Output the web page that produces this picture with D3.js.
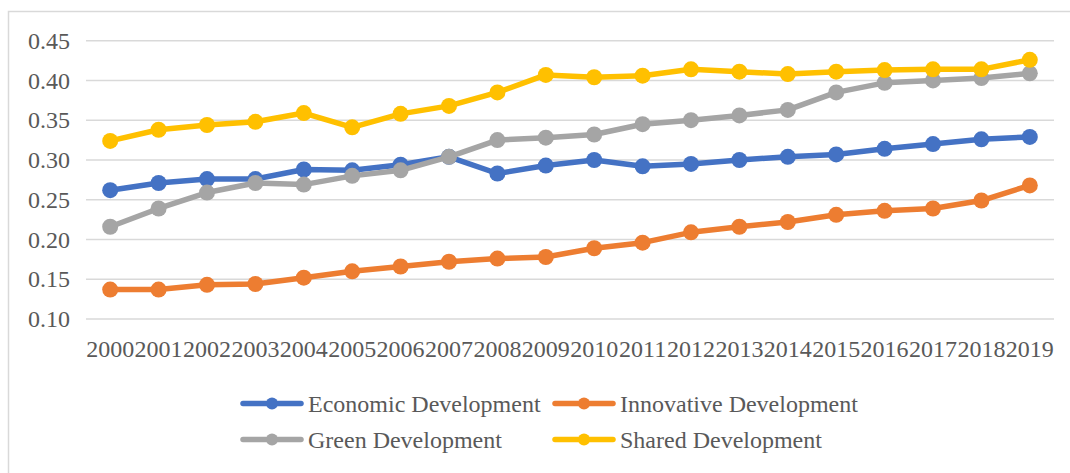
<!DOCTYPE html>
<html>
<head>
<meta charset="utf-8">
<script src="https://cdn.jsdelivr.net/npm/d3@7"></script>
<style>
  body { margin: 0; background: #fff; }
  svg { display: block; }
  text { font-family: "Liberation Serif", "Times New Roman", serif; fill: #595959; }
</style>
</head>
<body>
<div id="chart"></div>
<script>
// years on the x axis
const years = ["2000","2001","2002","2003","2004","2005","2006","2007","2008","2009",
               "2010","2011","2012","2013","2014","2015","2016","2017","2018","2019"];

// values
const economic   = [0.262,0.271,0.276,0.276,0.288,0.287,0.294,0.304,0.283,0.293,
                    0.300,0.292,0.295,0.300,0.304,0.307,0.314,0.320,0.326,0.329];
const innovative = [0.137,0.137,0.143,0.144,0.152,0.160,0.166,0.172,0.176,0.178,
                    0.189,0.196,0.209,0.216,0.222,0.231,0.236,0.239,0.249,0.268];
const green      = [0.216,0.239,0.259,0.271,0.269,0.280,0.287,0.304,0.325,0.328,
                    0.332,0.345,0.350,0.356,0.363,0.385,0.397,0.400,0.403,0.409];
const shared     = [0.324,0.338,0.344,0.348,0.359,0.341,0.358,0.368,0.385,0.407,
                    0.404,0.406,0.414,0.411,0.408,0.411,0.413,0.414,0.414,0.426];

const yTicks = [0.10, 0.15, 0.20, 0.25, 0.30, 0.35, 0.40, 0.45];

const series = [
  { name: "Economic Development",   values: economic,   color: "#4472C4" },
  { name: "Innovative Development", values: innovative, color: "#ED7D31" },
  { name: "Green Development",      values: green,      color: "#A5A5A5" },
  { name: "Shared Development",     values: shared,     color: "#FFC000" }
];

const width = 1070, height = 473;

const svg = d3.select("#chart").append("svg")
  .attr("width", width)
  .attr("height", height);

// chart frame (runs off the right / bottom of the picture)
svg.append("rect")
  .attr("x", 8.5).attr("y", 11.5)
  .attr("width", 1080).attr("height", 480)
  .attr("fill", "none")
  .attr("stroke", "#d9d9d9")
  .attr("stroke-width", 1.5);

let x = d3.scaleBand()
  .domain(years)
  .range([86, 1054]);

let y = d3.scaleLinear()
  .domain([0.10, 0.45])
  .range([319, 40.7]);

// gridlines
svg.append("g")
  .selectAll("line")
  .data(yTicks)
  .enter().append("line")
  .attr("x1", 86).attr("x2", 1054)
  .attr("y1", d => y(d)).attr("y2", d => y(d))
  .attr("stroke", "#d9d9d9")
  .attr("stroke-width", 1.5);

// y axis labels
let yAxis = svg.append("g")
  .attr("transform", "translate(86,0)")
  .call(d3.axisLeft(y).tickValues(yTicks).tickFormat(d3.format(".2f")).tickSize(0).tickPadding(16));
yAxis.select(".domain").remove();
yAxis.selectAll("text")
  .style("font-family", "Liberation Serif")
  .style("font-size", "24px")
  .attr("fill", "#595959");

// x axis labels
let xAxis = svg.append("g")
  .attr("transform", "translate(0,319)")
  .call(d3.axisBottom(x).tickSize(0).tickPadding(21));
xAxis.select(".domain").remove();
xAxis.selectAll("text")
  .style("font-family", "Liberation Serif")
  .style("font-size", "24px")
  .attr("fill", "#595959");

let cx = d => x(d) + x.bandwidth() / 2;

let line = d3.line()
  .x((d, i) => cx(years[i]))
  .y(d => y(d));

// lines and markers
series.forEach(s => {
  let g = svg.append("g");
  g.append("path")
    .datum(s.values)
    .attr("d", line)
    .attr("fill", "none")
    .attr("stroke", s.color)
    .attr("stroke-width", 5.5)
    .attr("stroke-linejoin", "round");
  g.selectAll("circle")
    .data(s.values)
    .enter().append("circle")
    .attr("cx", (d, i) => cx(years[i]))
    .attr("cy", d => y(d))
    .attr("r", 8)
    .attr("fill", s.color);
});

// legend
let legendPos = [[243, 403.5], [555, 403.5], [243, 439.5], [555, 439.5]];
series.forEach((s, i) => {
  let [lx, ly] = legendPos[i];
  let g = svg.append("g").attr("transform", "translate(" + lx + "," + ly + ")");
  g.append("line")
    .attr("x1", 0).attr("x2", 58)
    .attr("stroke", s.color)
    .attr("stroke-width", 5.5)
    .attr("stroke-linecap", "round");
  g.append("circle")
    .attr("cx", 29).attr("r", 6)
    .attr("fill", s.color);
  g.append("text")
    .attr("x", 65).attr("y", 8)
    .style("font-size", "24px")
    .text(s.name);
});
</script>
</body>
</html>
